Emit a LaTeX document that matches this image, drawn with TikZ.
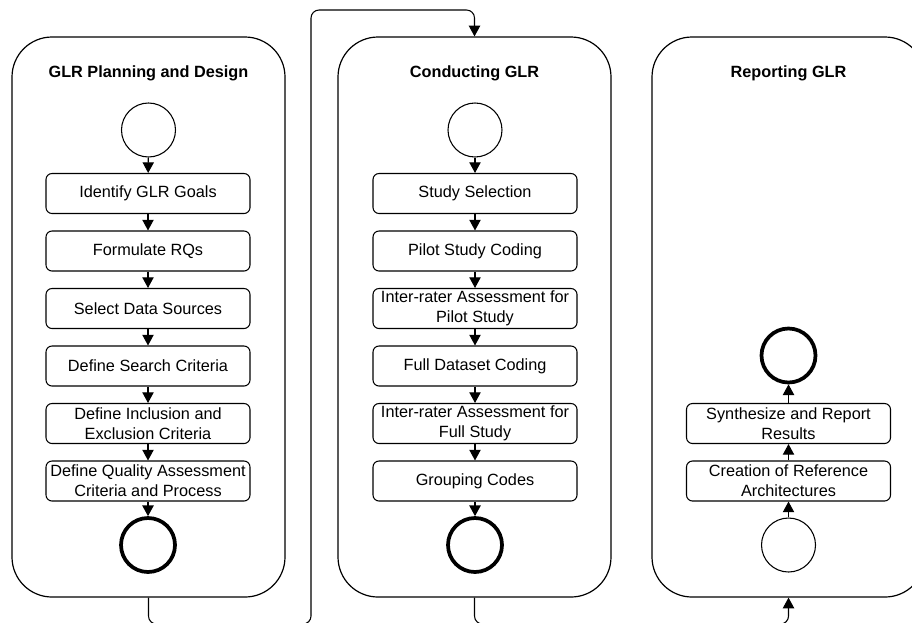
\documentclass[tikz,border=0pt]{standalone}
\usepackage{fontspec}
\setmainfont{Liberation Sans}
\usepackage{tikz}
\usetikzlibrary{arrows.meta}

\begin{document}
\begin{tikzpicture}[
    x=0.75pt, y=-0.75pt,
    every node/.style={font=\fontsize{12.2}{15}\selectfont},
    % Phase styles
    phase/.style={rectangle, rounded corners=30pt, draw=black, line width=0.9pt, minimum width=204.75pt, minimum height=420pt},
    phasetitle/.style={font=\fontsize{12.2}{15}\selectfont\bfseries},
    % Activity styles
    activity/.style={rectangle, rounded corners=4.5pt, draw=black, line width=0.8pt, minimum width=153pt, minimum height=30pt, align=center, inner sep=1pt},
    startev/.style={circle, draw=black, line width=0.8pt, minimum size=40.5pt, inner sep=0pt},
    endev/.style={circle, draw=black, line width=2.8pt, minimum size=40.5pt, inner sep=0pt},
    % Arrow styles
    flow/.style={-{Triangle[width=8.5pt,length=8pt]}, line width=0.8pt},
    phaseflow/.style={-{Triangle[width=8.5pt,length=8pt]}, line width=0.8pt, rounded corners=6pt}
]

\useasboundingbox (0,0) rectangle (912,622);
\clip (0,0) rectangle (912,622);

% Phases
\node[phase] (plan) at (148.5, 317) {};
\node[phase] (conduct) at (474.5, 317) {};
\node[phase] (report) at (788.5, 317) {};
\node[phasetitle] (plantitle) at (148.5, 73) {GLR Planning and Design};
\node[phasetitle] (conducttitle) at (474.5, 73) {Conducting GLR};
\node[phasetitle] (reporttitle) at (788.5, 73) {Reporting GLR};

% Planning and design
\node[startev] (planstart) at (148.5, 130) {};
\node[activity] (goals) at (148, 193.5) {Identify GLR Goals};
\node[activity] (rqs) at (148, 251) {Formulate RQs};
\node[activity] (sources) at (148, 308.5) {Select Data Sources};
\node[activity] (search) at (148, 366) {Define Search Criteria};
\node[activity] (inclusion) at (148, 423.5) {Define Inclusion and\\Exclusion Criteria};
\node[activity] (quality) at (148, 481) {Define Quality Assessment\\Criteria and Process};
\node[endev] (planend) at (148, 545) {};

% Conducting
\node[startev] (conductstart) at (475, 130) {};
\node[activity] (selection) at (475, 193.5) {Study Selection};
\node[activity] (pilot) at (475, 251) {Pilot Study Coding};
\node[activity] (pilotirr) at (475, 308.5) {Inter-rater Assessment for\\Pilot Study};
\node[activity] (fullcoding) at (475, 366) {Full Dataset Coding};
\node[activity] (fullirr) at (475, 423.5) {Inter-rater Assessment for\\Full Study};
\node[activity] (grouping) at (475, 481) {Grouping Codes};
\node[endev] (conductend) at (475, 545) {};

% Reporting (bottom up)
\node[startev] (reportstart) at (788.5, 545) {};
\node[activity] (refarch) at (788.5, 481) {Creation of Reference\\Architectures};
\node[activity] (synthesize) at (788.5, 423.5) {Synthesize and Report\\Results};
\node[endev] (reportend) at (788.5, 355.5) {};

% Flows - planning
\draw[flow] (planstart) -- (goals);
\draw[flow] (goals) -- (rqs);
\draw[flow] (rqs) -- (sources);
\draw[flow] (sources) -- (search);
\draw[flow] (search) -- (inclusion);
\draw[flow] (inclusion) -- (quality);
\draw[flow] (quality) -- (planend);

% Flows - conducting
\draw[flow] (conductstart) -- (selection);
\draw[flow] (selection) -- (pilot);
\draw[flow] (pilot) -- (pilotirr);
\draw[flow] (pilotirr) -- (fullcoding);
\draw[flow] (fullcoding) -- (fullirr);
\draw[flow] (fullirr) -- (grouping);
\draw[flow] (grouping) -- (conductend);

% Flows - reporting
\draw[flow] (reportstart) -- (refarch);
\draw[flow] (refarch) -- (synthesize);
\draw[flow] (synthesize) -- (reportend);

% Phase to phase
\coordinate (loopdown) at (311, 624);
\coordinate (loopup) at (311, 10);
\coordinate (handover) at (630, 624);
\draw[phaseflow] (plan.south) |- (loopdown) -- (loopup) -| (conduct.north);
\draw[phaseflow] (conduct.south) |- (handover) -| (report.south);

\end{tikzpicture}
\end{document}
